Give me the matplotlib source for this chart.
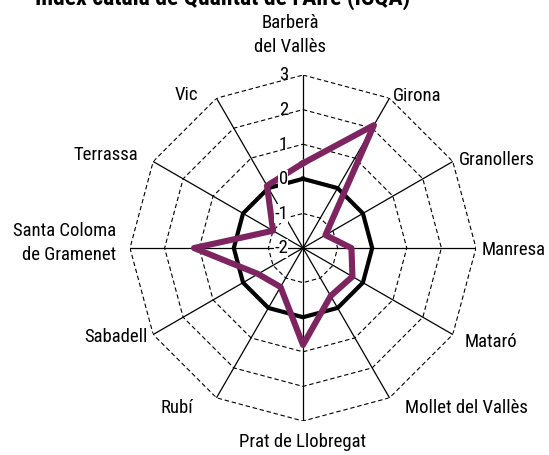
import numpy as np
import matplotlib
matplotlib.use("Agg")
import matplotlib.pyplot as plt

plt.rcParams['font.family'] = ['Liberation Sans Narrow', 'DejaVu Sans Condensed',
                               'Roboto Condensed', 'Roboto', 'DejaVu Sans']

title = "Índex català de Qualitat de l'Aire (ICQA)"
categories = ["Barberà\ndel Vallès", "Girona", "Granollers", "Manresa", "Mataró",
              "Mollet del Vallès", "Prat de Llobregat", "Rubí", "Sabadell",
              "Santa Coloma\nde Gramenet", "Terrassa", "Vic"]
icqa = [0.45, 2.1, -1.25, -0.6, -0.35, -0.4, 0.8, -0.7, -0.5, 1.15, -1.0, 0.08]
reference = [0] * 12
levels = [-2, -1, 0, 1, 2, 3]

fig = plt.figure(figsize=(5.49, 4.55), dpi=100)
ax = fig.add_axes([0.2368, 0.0747, 0.6302, 0.7604], projection='polar')
ax.set_theta_zero_location('N')
ax.set_theta_direction(-1)
ax.set_ylim(-2, 3)
ax.grid(False)
ax.spines['polar'].set_visible(False)
ax.set_xticks([])
ax.set_yticks([])
ax.patch.set_visible(False)

n = len(categories)
theta = np.linspace(0, 2 * np.pi, n, endpoint=False)
theta_c = np.concatenate([theta, theta[:1]])

# polygon gridlines
for lv in levels[1:]:
    ax.plot(theta_c, [lv] * (n + 1), color='black', lw=0.8, ls=(0, (4, 2.5)), zorder=1)
# spokes
for t in theta:
    ax.plot([t, t], [-2, 3], color='black', lw=0.9, zorder=1)

ax.plot(theta_c, reference + reference[:1], color='black', lw=3.0, zorder=3,
        solid_joinstyle='miter')
ax.plot(theta_c, icqa + icqa[:1], color='#7E2460', lw=4.4, zorder=4,
        solid_joinstyle='round')

# radial tick labels (placed just left of the vertical axis)
for lv in levels:
    xpix = 288
    ypix = 248.3 - (lv + 2) * 34.6
    ax.text(xpix / 549, 1 - ypix / 455, str(lv), fontsize=13.5,
            ha='right', va='center', zorder=5, transform=fig.transFigure,
            bbox=dict(facecolor='white', edgecolor='none', pad=0.3) if lv in (-2, -1, 0) else None)

# category labels
label_pos = {
    0: (290, 35, 'center'),
    1: (393, 96, 'left'),
    2: (459, 160, 'left'),
    3: (482, 250, 'left'),
    4: (465, 342, 'left'),
    5: (405, 408, 'left'),
    6: (303, 442, 'center'),
    7: (193, 408, 'right'),
    8: (148, 337, 'right'),
    9: (116, 243, 'right'),
    10: (138, 155, 'right'),
    11: (198, 95, 'right'),
}
W, H = 549, 455
for i, cat in enumerate(categories):
    x, y, ha = label_pos[i]
    fig.text(x / W, 1 - y / H, cat, fontsize=13.5, ha=ha, va='center',
             multialignment=ha, linespacing=1.4)

fig.text(0.064, 1.008, title, fontsize=17, fontweight='bold', ha='left', va='center')

fig.savefig('out.png', dpi=100)
